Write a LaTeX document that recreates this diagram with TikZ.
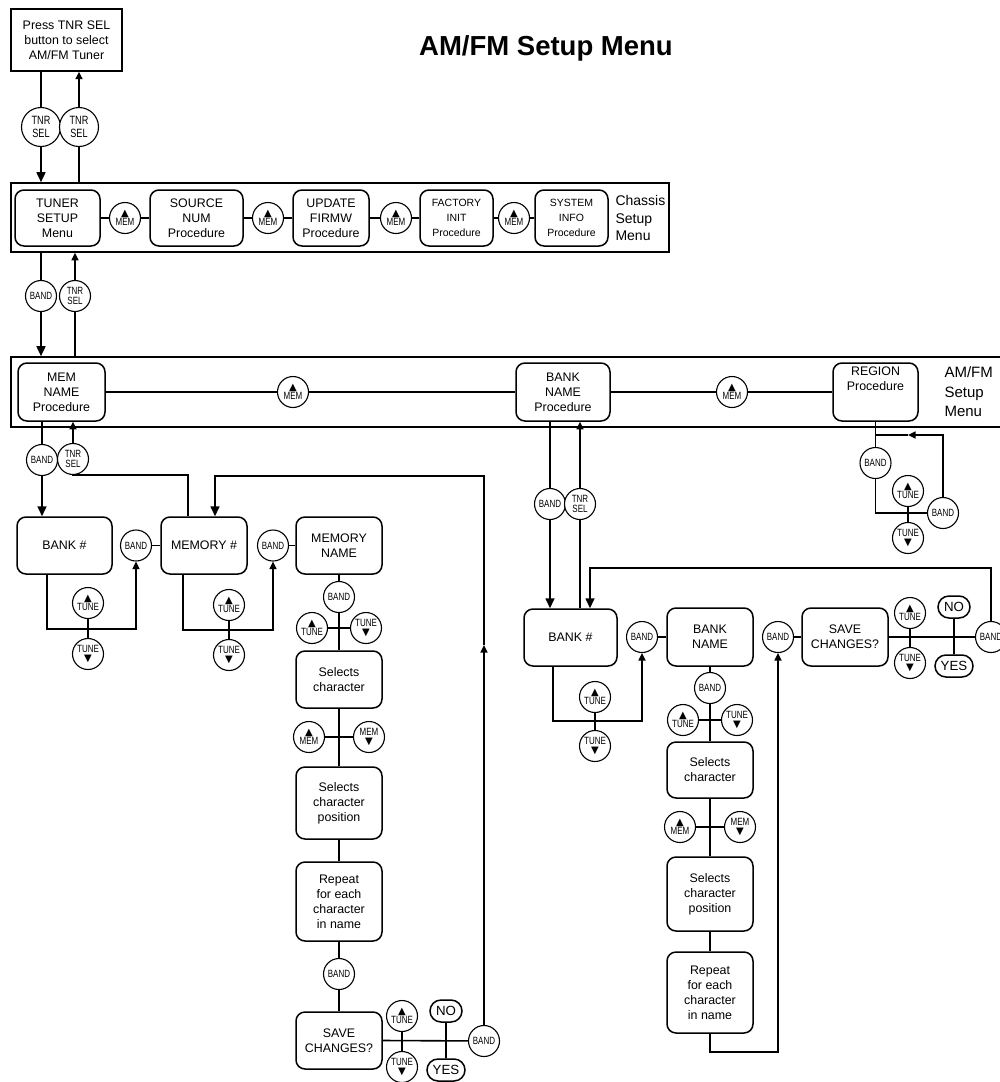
\documentclass[tikz,border=0pt]{standalone}
\usepackage{fontspec}
\setmainfont{Liberation Sans}
\newfontfamily\dvs{DejaVu Sans}
\newfontfamily\cnd[FakeStretch=0.76]{Liberation Sans}
\usetikzlibrary{arrows.meta,shapes.misc,calc}
\pgfdeclarelayer{bg}
\pgfsetlayers{bg,main}
\newcommand\tup{{\dvs\fontsize{10}{10}\selectfont ▲}}
\newcommand\tdn{{\dvs\fontsize{10}{10}\selectfont ▼}}
\newcommand\mybox[7][]{\node[rbox,minimum width={#5-#3},minimum height={#6-#4},#1] (#2) at ({(#3+#5)/2},{(#4+#6)/2}) {#7};}
\begin{document}
\begin{tikzpicture}[x=1pt,y=-1pt,
 rbox/.style={draw, rounded corners=9pt, line width=1.5pt, align=center, inner sep=1pt, font=\fontsize{12.4}{15}\selectfont},
 btn/.style={circle, draw, fill=white, line width=1.1pt, minimum size=31pt, inner sep=0pt, align=center, font=\cnd\fontsize{10.5}{10.5}\selectfont},
 bigbtn/.style={btn, minimum size=39pt, font=\cnd\fontsize{12}{12.5}\selectfont},
 pill/.style={draw, rounded rectangle, line width=1.5pt, minimum height=22pt, inner xsep=3pt, inner ysep=1pt, fill=white, font=\fontsize{13.3}{14}\selectfont},
 conn/.style={line width=1.6pt},
 arrL/.style={-{Triangle[length=10pt,width=9pt]}},
 arrS/.style={-{Triangle[length=7.5pt,width=7pt]}},
 frame/.style={draw, line width=1.6pt, inner sep=0pt},
 lbl/.style={anchor=west, align=left}
]
\useasboundingbox (0,0) rectangle (999,1082);

% ---- top
\node[draw, line width=1.4pt, minimum width=111pt, minimum height=62pt, align=center, font=\fontsize{12.4}{15}\selectfont] (top) at (66.5,40) {Press TNR SEL\\button to select\\AM/FM Tuner};
\node[font=\fontsize{27.5}{30}\selectfont\bfseries] (title) at (546,48) {AM/FM Setup Menu};
\node[bigbtn] (tsA) at (41,127) {TNR\\SEL};
\node[bigbtn] (tsB) at (79,127) {TNR\\SEL};

% ---- chassis setup menu
\node[frame, minimum width=658pt, minimum height=69pt] (chassis) at (340,217.5) {};
\mybox{tuner}{15}{190}{100}{246}{TUNER\\SETUP\\Menu}
\mybox{source}{150}{190}{243}{246}{SOURCE\\NUM\\Procedure}
\mybox{update}{293}{190}{369}{246}{UPDATE\\FIRMW\\Procedure}
\mybox[font=\fontsize{10.5}{15}\selectfont]{factory}{420}{190}{493}{246}{FACTORY\\INIT\\Procedure}
\mybox[font=\fontsize{10.5}{15}\selectfont]{system}{535}{190}{608}{246}{SYSTEM\\INFO\\Procedure}
\node[btn] (m1) at (125,218) {\tup\\[-1pt]MEM};
\node[btn] (m2) at (268,218) {\tup\\[-1pt]MEM};
\node[btn] (m3) at (396,218) {\tup\\[-1pt]MEM};
\node[btn] (m4) at (514,218) {\tup\\[-1pt]MEM};
\node[lbl, font=\fontsize{14}{17.5}\selectfont] (chl) at (612,218) {Chassis\\Setup\\Menu};
\node[btn] (bd1) at (41,296) {BAND};
\node[btn] (ts1) at (75,296) {TNR\\SEL};

% ---- AM/FM setup menu
\node[frame, minimum width=1000pt, minimum height=70pt] (amfm) at (511,392) {};
\mybox{memnp}{18}{363}{105}{421}{MEM\\NAME\\Procedure}
\mybox{bnp}{516}{363}{610}{421}{BANK\\NAME\\Procedure}
\mybox{region}{833}{363}{918}{421}{}
\node[font=\fontsize{12.4}{15}\selectfont, align=center, anchor=north] (regt) at ([yshift=-1pt]region.north) {REGION\\Procedure};
\node[btn] (m5) at (293,392) {\tup\\[-1pt]MEM};
\node[btn] (m6) at (732,392) {\tup\\[-1pt]MEM};
\node[lbl, font=\fontsize{15}{19.5}\selectfont] (aml) at (941,392) {AM/FM\\Setup\\Menu};

% ---- MEM NAME branch
\node[btn] (bd2) at (42,460) {BAND};
\node[btn] (ts2) at (73,459) {TNR\\SEL};
\mybox{bank1}{17}{517}{112}{574}{BANK \#}
\node[btn] (bdA) at (136,545.5) {BAND};
\mybox{memnum}{161}{517}{247}{574}{MEMORY \#}
\node[btn] (bdB) at (273,545.5) {BAND};
\mybox{memname}{296}{517}{382}{574}{MEMORY\\NAME}
\node[btn] (tuA1) at (88,603) {\tup\\[-1pt]TUNE};
\node[btn] (tuA2) at (88,654) {TUNE\\[-1pt]\tdn};
\coordinate (jA) at (88,629);
\node[btn] (tuB1) at (229,605) {\tup\\[-1pt]TUNE};
\node[btn] (tuB2) at (229,655) {TUNE\\[-1pt]\tdn};
\coordinate (jB) at (229,630);
\node[btn] (bdC) at (339,597) {BAND};
\node[btn] (tuC1) at (312,628) {\tup\\[-1pt]TUNE};
\node[btn] (tuC2) at (366,628) {TUNE\\[-1pt]\tdn};
\mybox{selA}{296}{651}{382}{708}{Selects\\character}
\node[btn] (mmA1) at (309,737) {\tup\\[-1pt]MEM};
\node[btn] (mmA2) at (369,737) {MEM\\[-1pt]\tdn};
\mybox{selposA}{296}{767}{382}{839}{Selects\\character\\position}
\mybox{repA}{296}{862}{382}{941}{Repeat\\for each\\character\\in name}
\node[btn] (bdD) at (339,974) {BAND};
\mybox{saveA}{296}{1012}{382}{1069}{SAVE\\CHANGES?}
\node[btn] (tuD1) at (402,1016) {\tup\\[-1pt]TUNE};
\node[btn] (tuD2) at (402,1067) {TUNE\\[-1pt]\tdn};
\node[pill, minimum width=38pt] (noA) at (446,1011) {NO};
\node[pill, minimum width=44pt] (yesA) at (446,1070) {YES};
\node[btn] (bdE) at (484,1041) {BAND};
\coordinate (mA) at (484,645);
\coordinate (kA) at (484,476);

% ---- BANK NAME branch
\node[btn] (bd3) at (550,504) {BAND};
\node[btn] (ts3) at (580,504) {TNR\\SEL};
\mybox{bank2}{524}{609}{617}{666}{BANK \#}
\node[btn] (bdF) at (642,637) {BAND};
\mybox{bankname}{667}{608}{753}{666}{BANK\\NAME}
\node[btn] (bdG) at (778,637) {BAND};
\mybox{save2}{802}{608}{888}{666}{SAVE\\CHANGES?}
\node[btn] (tuE1) at (910,613) {\tup\\[-1pt]TUNE};
\node[btn] (tuE2) at (910,663) {TUNE\\[-1pt]\tdn};
\node[pill, minimum width=38pt] (noB) at (954,607) {NO};
\node[pill, minimum width=44pt] (yesB) at (954,666) {YES};
\node[btn] (bdH) at (991,637) {BAND};
\coordinate (kB) at (991,568);
\node[btn] (tuF1) at (595,697) {\tup\\[-1pt]TUNE};
\node[btn] (tuF2) at (595,746) {TUNE\\[-1pt]\tdn};
\coordinate (jC) at (595,721);
\node[btn] (bdI) at (710,688) {BAND};
\node[btn] (tuG1) at (683,720) {\tup\\[-1pt]TUNE};
\node[btn] (tuG2) at (737,720) {TUNE\\[-1pt]\tdn};
\mybox{selB}{667}{742}{753}{798}{Selects\\character}
\node[btn] (mmB1) at (680,827) {\tup\\[-1pt]MEM};
\node[btn] (mmB2) at (740,827) {MEM\\[-1pt]\tdn};
\mybox{selposB}{667}{857}{753}{931}{Selects\\character\\position}
\mybox{repB}{667}{952}{753}{1033}{Repeat\\for each\\character\\in name}
\coordinate (jD) at (778,1052);

% ---- REGION branch
\node[btn] (bdJ) at (875.5,463) {BAND};
\node[btn] (bdK) at (943,513) {BAND};
\node[btn] (tuH1) at (908,491) {\tup\\[-1pt]TUNE};
\node[btn] (tuH2) at (908,538) {TUNE\\[-1pt]\tdn};
\coordinate (jE) at (875.5,513);
\coordinate (mB) at (908,435);

% ---- connectors
\begin{pgfonlayer}{bg}
\draw[conn,arrL] (top.south -| tsA) -- (chassis.north -| tsA);
\draw[conn,arrS] (chassis.north -| tsB) -- (top.south -| tsB);
\draw[conn] (tuner.east) -- (source.west);
\draw[conn] (source.east) -- (update.west);
\draw[conn] (update.east) -- (factory.west);
\draw[conn] (factory.east) -- (system.west);
\draw[conn,arrL] (chassis.south -| bd1) -- (amfm.north -| bd1);
\draw[conn,arrS] (amfm.north -| ts1) -- (chassis.south -| ts1);
\draw[conn] (memnp.east) -- (bnp.west);
\draw[conn] (bnp.east) -- (region.west);
% MEM NAME
\draw[conn,arrL] (memnp.south -| bd2) -- (bank1.north -| bd2);
\draw[conn,arrS] ([xshift=-16pt]memnum.north) |- (ts2.south) -- (memnp.south -| ts2);
\draw[conn] (bdA.center) -- (memnum.west);
\draw[conn] (bdB.center) -- (memname.west);
\draw[conn,arrS] ([xshift=-17.5pt]bank1.south) |- (jA) -| (bdA.south);
\draw[conn] (tuA1) -- (tuA2);
\draw[conn,arrS] ([xshift=-21pt]memnum.south) |- (jB) -| (bdB.south);
\draw[conn] (tuB1) -- (tuB2);
\draw[conn] (memname.south) -- (selA.north);
\draw[conn] (tuC1) -- (tuC2);
\draw[conn] (selA.south) -- (selposA.north);
\draw[conn] (mmA1) -- (mmA2);
\draw[conn] (selposA.south) -- (repA.north);
\draw[conn] (repA.south) -- (saveA.north);
\draw[conn] (saveA.east) -- (bdE.center);
\draw[conn] (tuD1) -- (tuD2);
\draw[conn] (noA) -- (yesA);
\draw[conn,arrS] (bdE.center) -- (mA);
\draw[conn,arrL] (mA) -- (kA) -| ([xshift=11pt]memnum.north);
% BANK NAME
\draw[conn,arrL] (bnp.south -| bd3) -- (bank2.north -| bd3);
\draw[conn,arrS] (bank2.north -| ts3) -- (bnp.south -| ts3);
\draw[conn] (bdF.center) -- (bankname.west);
\draw[conn] (bdG.center) -- (save2.west);
\draw[conn] (save2.east) -- (bdH.center);
\draw[conn] (tuE1) -- (tuE2);
\draw[conn] (noB) -- (yesB);
\draw[conn,arrL] (bdH.center) -- (kB) -| ([xshift=19.5pt]bank2.north);
\draw[conn,arrS] ([xshift=-17.5pt]bank2.south) |- (jC) -| (bdF.south);
\draw[conn] (tuF1) -- (tuF2);
\draw[conn] (bankname.south) -- (selB.north);
\draw[conn] (tuG1) -- (tuG2);
\draw[conn] (selB.south) -- (selposB.north);
\draw[conn] (mmB1) -- (mmB2);
\draw[conn] (selposB.south) -- (repB.north);
\draw[conn,arrS] (repB.south) |- (jD) -- (bdG.south);
% REGION
\draw[conn] (region.south) -- (jE) -- (bdK.center);
\draw[conn] (tuH1) -- (tuH2);
\draw[conn,arrS] (bdK.center) |- (mB);
\draw[conn] (mB) -- (region.south |- mB);
\end{pgfonlayer}
\end{tikzpicture}
\end{document}
